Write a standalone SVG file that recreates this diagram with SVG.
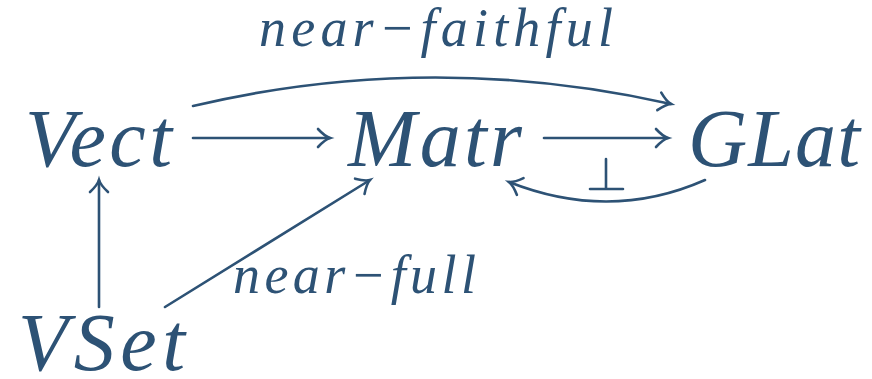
<svg xmlns="http://www.w3.org/2000/svg" width="872" height="379" viewBox="0 0 872 379">
<defs>
<marker id="ah" markerUnits="userSpaceOnUse" markerWidth="30" markerHeight="30" viewBox="-15 -15 30 30" refX="0" refY="0" orient="auto">
<path d="M-12,-9 Q-5,-1.5 0,0 Q-5,1.5 -12,9" fill="none" stroke="#2d5275" stroke-width="2.6" stroke-linecap="round"/>
</marker>
</defs>
<rect width="872" height="379" fill="#fff"/>
<g id="vect"><text font-family="'Liberation Serif', 'Times New Roman', Times, serif" font-style="italic" font-size="82" fill="#2d5275" x="25" y="166" textLength="147">Vect</text></g>
<g id="matr"><text font-family="'Liberation Serif', 'Times New Roman', Times, serif" font-style="italic" font-size="82" fill="#2d5275" x="348" y="166" textLength="174">Matr</text></g>
<g id="glat"><text font-family="'Liberation Serif', 'Times New Roman', Times, serif" font-style="italic" font-size="82" fill="#2d5275" x="688" y="166" textLength="172">GLat</text></g>
<g id="vset"><text font-family="'Liberation Serif', 'Times New Roman', Times, serif" font-style="italic" font-size="82" fill="#2d5275" x="18" y="370" textLength="167">VSet</text></g>
<g id="labels">
<text font-family="'Liberation Serif', 'Times New Roman', Times, serif" font-style="italic" font-size="54" fill="#2d5275" x="259" y="46" textLength="354">near−faithful</text>
<text font-family="'Liberation Serif', 'Times New Roman', Times, serif" font-style="italic" font-size="54" fill="#2d5275" x="233" y="293" textLength="243">near−full</text>
</g>
<g id="connectors" fill="none" stroke="#2d5275" stroke-width="2.6" stroke-linecap="round">
<path d="M193,138 L330,138" marker-end="url(#ah)"/>
<path d="M544,138 L668,138" marker-end="url(#ah)"/>
<path d="M193,106 Q430,50 671,104" marker-end="url(#ah)"/>
<path d="M705,180 Q610,222 509,182" marker-end="url(#ah)"/>
<path d="M99,307 L99,180" marker-end="url(#ah)"/>
<path d="M165,307 L370,180" marker-end="url(#ah)"/>
<path d="M606,159 L606,188 M590,189 L623,189"/>
</g>
</svg>
